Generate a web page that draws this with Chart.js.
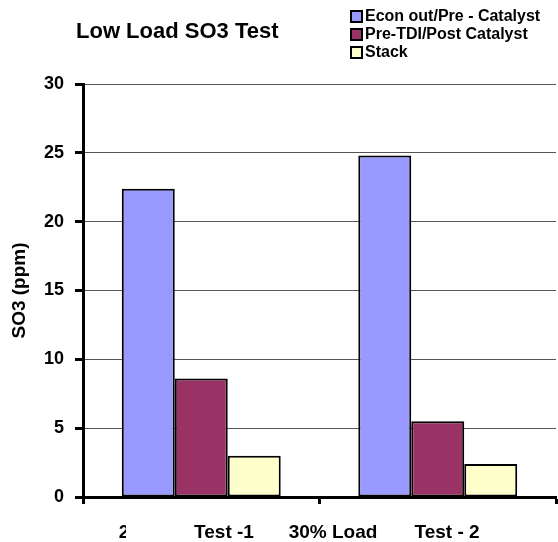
<!DOCTYPE html>
<html>
<head>
<meta charset="utf-8">
<script src="https://cdn.jsdelivr.net/npm/chart.js@4.4.0/dist/chart.umd.min.js"></script>
<style>
  html, body { margin: 0; padding: 0; background: #fff; }
  #wrap { width: 558px; height: 542px; }
</style>
</head>
<body>
<div id="wrap"><canvas id="c"></canvas></div>
<script>
const categories = ['Test -1', 'Test - 2'];
const seriesNames = ['Econ out/Pre - Catalyst', 'Pre-TDI/Post Catalyst', 'Stack'];
const econOut = [22.4, 24.8];
const preTdi = [8.6, 5.5];
const stack = [3.0, 2.4];
const axisLabels = ['2', 'Test -1', '30% Load', 'Test - 2'];
const yTicks = [0, 5, 10, 15, 20, 25, 30];

const colors = ['#9999FF', '#993366', '#FFFFCC'];
const FONT = '"Liberation Sans", Arial, sans-serif';

const extras = {
	id: 'extras',
	afterDraw(chart) {
		const ctx = chart.ctx;
		ctx.save();
		ctx.fillStyle = '#000';
		// title
		ctx.font = 'bold 22px ' + FONT;
		ctx.textBaseline = 'alphabetic';
		ctx.textAlign = 'left';
		ctx.fillText('Low Load SO3 Test', 76, 38);

		// legend
		ctx.font = 'bold 16px ' + FONT;
		ctx.textBaseline = 'middle';
		seriesNames.forEach((name, i) => {
			const y = 16 + i * 18;
			ctx.fillStyle = colors[i];
			ctx.fillRect(351, y - 5, 11, 11);
			ctx.strokeStyle = '#000';
			ctx.lineWidth = 2;
			ctx.strokeRect(351, y - 5, 11, 11);
			ctx.fillStyle = '#000';
			ctx.fillText(name, 365, y + 1);
		});

		// x axis labels
		ctx.font = 'bold 19px ' + FONT;
		ctx.textAlign = 'center';
		ctx.textBaseline = 'alphabetic';
		const xs = [124, 224, 333, 447];
		axisLabels.forEach((t, i) => {
			if (i === 0) {
				ctx.save();
				ctx.beginPath();
				ctx.rect(118, 500, 8, 42);
				ctx.clip();
				ctx.fillText(t, xs[i], 538);
				ctx.restore();
			} else {
				ctx.fillText(t, xs[i], 538);
			}
		});
		ctx.restore();
	}
};

new Chart(document.getElementById('c'), {
	type: 'bar',
	data: {
		labels: categories,
		datasets: [
			{ label: seriesNames[0], data: econOut, backgroundColor: colors[0] },
			{ label: seriesNames[1], data: preTdi, backgroundColor: colors[1] },
			{ label: seriesNames[2], data: stack, backgroundColor: colors[2] },
		].map(d => ({ ...d, borderColor: '#000', borderWidth: 2, borderSkipped: false,
			barPercentage: 1, categoryPercentage: 0.672 }))
	},
	options: {
		responsive: true,
		maintainAspectRatio: false,
		animation: false,
		layout: { padding: { top: 84, right: 2, left: 0, bottom: 0 } },
		plugins: {
			legend: { display: false },
			title: { display: false },
			tooltip: { enabled: false },
		},
		scales: {
			x: {
				afterFit: s => { s.height = 45; },
				grid: { offset: true, drawOnChartArea: false, drawTicks: true, tickLength: 7, tickColor: '#000', tickWidth: 3 },
				border: { display: true, color: '#000', width: 3 },
				ticks: { display: false },
			},
			y: {
				min: 0,
				max: 30,
				afterFit: s => { s.width = 83; },
				afterBuildTicks: s => { s.ticks = yTicks.map(v => ({ value: v })); },
				grid: { color: '#555', lineWidth: 1, tickLength: 8, tickColor: '#000', tickWidth: 3 },
				border: { display: true, color: '#000', width: 3 },
				ticks: { color: '#000', padding: 11, font: { family: FONT, size: 18, weight: 'bold' } },
				title: { display: true, text: 'SO3 (ppm)', color: '#000', padding: { top: 8, bottom: 0 },
					font: { family: FONT, size: 19, weight: 'bold' } },
			}
		}
	},
	plugins: [extras]
});
</script>
</body>
</html>
